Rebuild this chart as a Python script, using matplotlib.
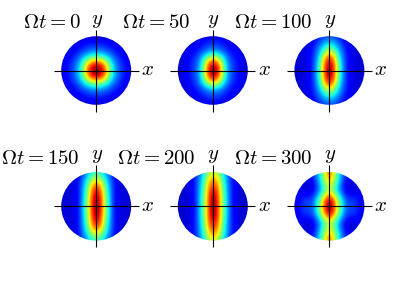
import numpy as np
import matplotlib
matplotlib.use("Agg")
import matplotlib.pyplot as plt
from matplotlib.patches import Ellipse

plt.rcParams['mathtext.fontset'] = 'cm'

# quadrant of each field, rows y = 0..1, columns x = 0..1 (step 1/8)
field_0 = [
    [1.00, .95, .80, .52, .33, .22, .16, .12, .08],
    [.95, .92, .74, .49, .32, .22, .16, .12, .08],
    [.80, .74, .60, .42, .28, .20, .15, .11, .08],
    [.52, .49, .42, .32, .23, .17, .13, .10, .08],
    [.33, .32, .28, .23, .18, .14, .11, .09, .08],
    [.22, .22, .20, .17, .14, .12, .10, .08, .08],
    [.16, .16, .15, .13, .11, .10, .08, .08, .08],
    [.12, .12, .11, .10, .09, .08, .08, .08, .08],
    [.08, .08, .08, .08, .08, .08, .08, .08, .08],
]
field_50 = [
    [1.00, .90, .60, .32, .21, .16, .12, .09, .07],
    [.97, .87, .58, .32, .21, .16, .12, .09, .07],
    [.86, .75, .50, .30, .20, .15, .12, .09, .07],
    [.62, .55, .40, .26, .18, .14, .11, .08, .07],
    [.38, .35, .28, .20, .15, .12, .10, .08, .07],
    [.25, .24, .20, .16, .13, .11, .09, .07, .07],
    [.19, .18, .16, .13, .11, .09, .08, .07, .07],
    [.15, .14, .13, .11, .09, .08, .07, .07, .07],
    [.11, .10, .09, .08, .07, .07, .07, .07, .07],
]
field_100 = [
    [1.00, .85, .50, .28, .15, .10, .08, .08, .07],
    [.98, .85, .50, .28, .15, .10, .08, .08, .07],
    [.93, .80, .47, .27, .15, .10, .08, .08, .07],
    [.85, .72, .42, .25, .15, .10, .08, .08, .07],
    [.70, .58, .36, .23, .14, .10, .08, .07, .07],
    [.52, .45, .31, .21, .13, .10, .08, .07, .07],
    [.38, .34, .25, .18, .12, .09, .07, .07, .07],
    [.28, .26, .20, .15, .10, .08, .07, .07, .07],
    [.20, .19, .16, .12, .09, .07, .07, .07, .07],
]
field_150 = [
    [1.00, .88, .54, .33, .15, .09, .08, .08, .07],
    [1.00, .87, .54, .33, .15, .09, .08, .08, .07],
    [.98, .85, .53, .32, .15, .09, .08, .08, .07],
    [.95, .82, .51, .31, .15, .09, .08, .08, .07],
    [.90, .77, .49, .30, .15, .09, .08, .08, .07],
    [.80, .69, .45, .28, .15, .09, .08, .08, .07],
    [.66, .58, .40, .26, .15, .09, .08, .07, .07],
    [.52, .47, .34, .23, .14, .09, .08, .07, .07],
    [.42, .39, .30, .20, .12, .08, .07, .07, .07],
]
field_200 = [
    [1.00, .86, .54, .34, .17, .10, .08, .07, .07],
    [1.00, .86, .54, .34, .17, .10, .08, .07, .07],
    [.98, .85, .53, .34, .17, .10, .08, .07, .07],
    [.95, .83, .52, .33, .17, .10, .08, .07, .07],
    [.91, .79, .50, .32, .17, .11, .08, .07, .07],
    [.85, .75, .48, .31, .17, .11, .08, .07, .07],
    [.77, .69, .45, .30, .17, .11, .08, .07, .07],
    [.69, .62, .42, .28, .16, .11, .08, .07, .07],
    [.60, .56, .38, .26, .15, .10, .08, .07, .07],
]
field_300 = [
    [1.00, .86, .55, .35, .20, .20, .17, .13, .08],
    [.98, .84, .54, .34, .20, .19, .17, .13, .08],
    [.90, .72, .47, .29, .18, .16, .15, .12, .08],
    [.72, .56, .37, .22, .13, .11, .12, .11, .08],
    [.60, .48, .31, .18, .10, .08, .09, .10, .08],
    [.62, .50, .32, .18, .09, .07, .08, .10, .08],
    [.70, .56, .36, .21, .11, .09, .11, .10, .08],
    [.78, .60, .39, .23, .15, .14, .13, .10, .08],
    [.82, .62, .40, .24, .17, .15, .12, .09, .08],
]
fields = [field_0, field_50, field_100, field_150, field_200, field_300]
times = [0, 50, 100, 150, 200, 300]

# layout in pixels of the 415x287 picture
W, H = 415, 287
centers = [(96.2, 70.5), (212.8, 70.5), (329.4, 70.5), (96.2, 206.3), (212.8, 206.3), (329.4, 206.3)]
title_right = [81, 190, 313, 80, 196, 313]
radius_x, radius_y = 35.0, 34.3
half_w, half_h = 44, 44

fig = plt.figure(figsize=(W / 100, H / 100), dpi=100)

for i, field in enumerate(fields):
    cx, cy = centers[i]
    ax = fig.add_axes([(cx - half_w) / W, 1 - (cy + half_h) / H, 2 * half_w / W, 2 * half_h / H])
    ax.set_xlim(-half_w / radius_x, half_w / radius_x)
    ax.set_ylim(-half_h / radius_y, half_h / radius_y)
    ax.axis('off')

    q = np.array(field)
    top = np.hstack([q[:, :0:-1], q])
    full = np.vstack([top[:0:-1], top])
    im = ax.imshow(full, cmap='jet', vmin=0, vmax=1, extent=[-1.0625, 1.0625, -1.0625, 1.0625],
                   origin='lower', aspect='auto', interpolation='bicubic', interpolation_stage='data')
    disk = Ellipse((0, 0), 2, 2, transform=ax.transData, fc='none', ec='none')
    ax.add_patch(disk)
    im.set_clip_path(disk)

    # axis cross
    ax.plot([-42.5 / radius_x, 42.5 / radius_x], [0, 0], color='k', lw=0.8, solid_capstyle='butt')
    ax.plot([0, 0], [-41 / radius_y, 41 / radius_y], color='k', lw=0.8, solid_capstyle='butt')

    fig.text((cx + 45) / W, 1 - (cy + 4.5) / H, r'$x$', fontsize=15, ha='left', va='baseline')
    fig.text((cx + 0.5) / W, 1 - (cy - 47) / H, r'$y$', fontsize=15, ha='center', va='baseline')
    fig.text(title_right[i] / W, 1 - (cy - 42.5) / H, r'$\Omega t = %d$' % times[i], fontsize=15,
             ha='right', va='baseline')

fig.savefig('out.png', dpi=100)
